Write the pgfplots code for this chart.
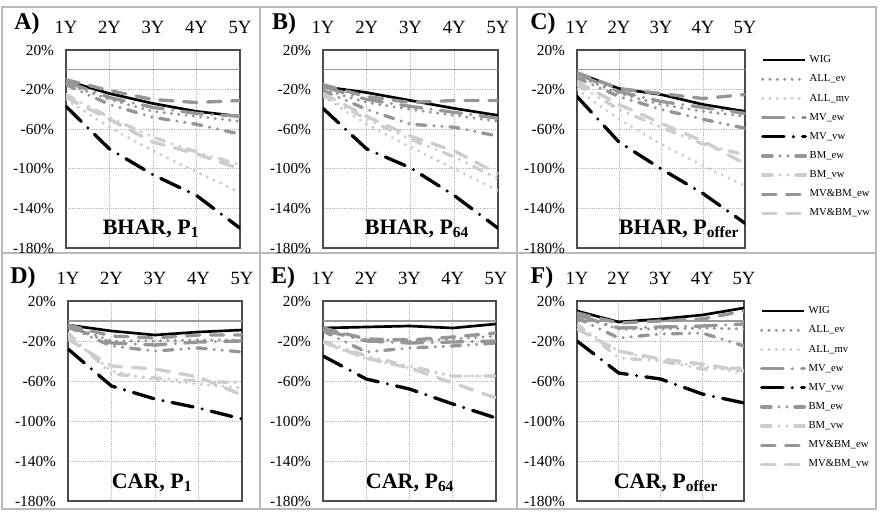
\documentclass[border=0pt]{standalone}
\usepackage{fontspec}
\setmainfont{Liberation Serif}
\usepackage{pgfplots}
\usepackage{pgfplotstable}
\pgfplotsset{compat=1.18}

\definecolor{mg}{RGB}{150,150,150}
\definecolor{lg}{RGB}{205,205,205}
\definecolor{gridc}{RGB}{185,185,185}
\definecolor{frame}{RGB}{185,185,185}
\newcommand\U{0.75pt}

% columns: x, WIG, ALL_ev, ALL_mv, MV_ew, MV_vw, BM_ew, BM_vw, MV&BM_ew, MV&BM_vw
\pgfplotstableread{
x wig allev allmv mvew mvvw bmew bmvw mbew mbvw
1 -11 -14 -30 -12 -37 -15 -25 -10 -28
2 -24 -30 -58 -28 -80 -35 -48 -21 -50
3 -34 -42 -82 -38 -106 -48 -68 -30 -73
4 -42 -47 -103 -44 -127 -55 -83 -33 -85
5 -47 -52 -124 -47 -160 -65 -96 -31 -100
}\tA
\pgfplotstableread{
x wig allev allmv mvew mvvw bmew bmvw mbew mbvw
1 -17 -20 -27 -17 -39 -21 -26 -15 -24
2 -23 -33 -55 -30 -80 -40 -50 -27 -47
3 -31 -40 -78 -37 -99 -55 -70 -33 -67
4 -39 -46 -100 -43 -127 -58 -88 -31 -82
5 -46 -52 -122 -49 -160 -67 -110 -31 -105
}\tB
\pgfplotstableread{
x wig allev allmv mvew mvvw bmew bmvw mbew mbvw
1 -3 -6 -20 -4 -27 -8 -15 -3 -12
2 -19 -24 -50 -22 -73 -27 -40 -19 -35
3 -25 -35 -75 -32 -100 -40 -58 -24 -54
4 -35 -42 -97 -38 -125 -50 -75 -29 -72
5 -42 -47 -117 -44 -155 -59 -86 -25 -95
}\tC
\pgfplotstableread{
x wig allev allmv mvew mvvw bmew bmvw mbew mbvw
1 -4 -4 -15 -5 -28 -6 -12 -4 -18
2 -10 -20 -50 -22 -65 -25 -53 -15 -45
3 -14 -20 -59 -24 -78 -30 -57 -17 -48
4 -11 -19 -63 -21 -87 -27 -60 -14 -56
5 -9 -19 -67 -20 -98 -31 -62 -14 -74
}\tD
\pgfplotstableread{
x wig allev allmv mvew mvvw bmew bmvw mbew mbvw
1 -7 -8 -22 -9 -35 -10 -20 -7 -21
2 -6 -18 -38 -20 -58 -31 -35 -18 -37
3 -5 -20 -47 -22 -68 -27 -45 -19 -47
4 -7 -18 -55 -21 -83 -25 -55 -16 -62
5 -3 -15 -55 -20 -97 -22 -55 -12 -77
}\tE
\pgfplotstableread{
x wig allev allmv mvew mvvw bmew bmvw mbew mbvw
1 10 5 -5 6 -20 3 -3 8 -8
2 -1 -8 -30 -7 -52 -17 -37 -2 -30
3 2 -8 -40 -6 -58 -13 -40 0 -38
4 6 -7 -45 -5 -73 -12 -48 2 -43
5 13 -8 -52 -3 -82 -25 -47 10 -50
}\tF

\tikzset{
  wig/.style={black, line width=2pt},
  allev/.style={mg, line width=2.5pt, line cap=round, dash pattern=on 0pt off 5.5pt},
  allmv/.style={lg, line width=2.5pt, line cap=round, dash pattern=on 0pt off 5.5pt},
  mvew/.style={mg, line width=2.5pt, line cap=round, dash pattern=on 16pt off 7pt on 0pt off 7pt},
  mvvw/.style={black, line width=2.5pt, line cap=round, dash pattern=on 16pt off 7pt on 0pt off 7pt},
  bmew/.style={mg, line width=2.5pt, line cap=round, dash pattern=on 7pt off 6pt on 0pt off 6pt on 0pt off 6pt},
  bmvw/.style={lg, line width=2.5pt, line cap=round, dash pattern=on 7pt off 6pt on 0pt off 6pt on 0pt off 6pt},
  mbew/.style={mg, line width=2.5pt, line cap=round, dash pattern=on 10pt off 8pt},
  mbvw/.style={lg, line width=2.5pt, line cap=round, dash pattern=on 10pt off 8pt},
}

\pgfplotsset{
  panel/.style={
    scale only axis, anchor=south west,
    xmin=1, xmax=5, ymin=-180, ymax=20,
    xtick={1,2,3,4,5}, xticklabels={1Y,2Y,3Y,4Y,5Y}, xticklabel pos=upper,
    ytick={20,-20,-60,-100,-140,-180},
    yticklabels={20\%,-20\%,-60\%,-100\%,-140\%,-180\%},
    extra y ticks={0}, extra y tick labels={},
    extra y tick style={grid=major, major grid style={solid, draw=gray!80, line width=0.8pt}},
    grid=major, major grid style={densely dotted, draw=gridc, line width=0.5pt},
    major tick length=0pt,
    axis line style={draw=black!70, line width=0.8pt},
    xticklabel style={font=\fontsize{14}{14}\selectfont, yshift=9pt},
    yticklabel style={font=\fontsize{11.5}{11.5}\selectfont, xshift=-5.5pt},
    legend image code/.code={\draw[##1] (0pt,0pt) -- (32pt,0pt);},
    legend style={draw=none, fill=none, font=\fontsize{8}{8}\selectfont,
      at={(1.07,1.0)}, anchor=north west, row sep=3.6pt,
      /tikz/every even column/.append style={column sep=3pt}},
    legend cell align=left,
  },
}

\newcommand\allseries[1]{%
  \addplot[wig] table[x=x,y=wig]{#1};
  \addplot[allev] table[x=x,y=allev]{#1};
  \addplot[allmv] table[x=x,y=allmv]{#1};
  \addplot[mvew] table[x=x,y=mvew]{#1};
  \addplot[mvvw] table[x=x,y=mvvw]{#1};
  \addplot[bmew] table[x=x,y=bmew]{#1};
  \addplot[bmvw] table[x=x,y=bmvw]{#1};
  \addplot[mbew] table[x=x,y=mbew]{#1};
  \addplot[mbvw] table[x=x,y=mbvw]{#1};
}

\begin{document}
\begin{tikzpicture}
\path[use as bounding box] (0,0) rectangle (882*\U,-511*\U);
% frame of the six cells
\draw[frame, line width=1.2pt] (2*\U,-7*\U) rectangle (876*\U,-509*\U);
\draw[frame, line width=1.2pt] (2*\U,-253*\U) -- (876*\U,-253*\U);
\draw[frame, line width=1.2pt] (260*\U,-7*\U) -- (260*\U,-509*\U);
\draw[frame, line width=1.2pt] (517*\U,-7*\U) -- (517*\U,-509*\U);

\begin{axis}[panel, at={(66*\U,-248*\U)}, width=174*\U, height=198*\U]
\allseries{\tA}
\end{axis}
\begin{axis}[panel, at={(323*\U,-248*\U)}, width=175*\U, height=198*\U]
\allseries{\tB}
\end{axis}
\begin{axis}[panel, at={(577*\U,-248*\U)}, width=168*\U, height=198*\U]
\allseries{\tC}
\legend{WIG,ALL\_ev,ALL\_mv,MV\_ew,MV\_vw,BM\_ew,BM\_vw,MV\&BM\_ew,MV\&BM\_vw}
\end{axis}
\begin{axis}[panel, at={(68*\U,-501*\U)}, width=174*\U, height=200*\U]
\allseries{\tD}
\end{axis}
\begin{axis}[panel, at={(323*\U,-501*\U)}, width=173*\U, height=200*\U]
\allseries{\tE}
\end{axis}
\begin{axis}[panel, at={(577*\U,-501*\U)}, width=167*\U, height=200*\U]
\allseries{\tF}
\legend{WIG,ALL\_ev,ALL\_mv,MV\_ew,MV\_vw,BM\_ew,BM\_vw,MV\&BM\_ew,MV\&BM\_vw}
\end{axis}

% panel letters
\begin{scope}[every node/.style={font=\bfseries\fontsize{18}{18}\selectfont}]
\node at (27*\U,-24*\U) {A)};
\node at (284*\U,-24*\U) {B)};
\node at (543*\U,-24*\U) {C)};
\node at (23*\U,-278*\U) {D)};
\node at (283*\U,-278*\U) {E)};
\node at (542*\U,-278*\U) {F)};
\end{scope}
% panel titles
\begin{scope}[every node/.style={font=\bfseries\fontsize{16.5}{17}\selectfont, anchor=base, inner sep=0pt}]
\node at (151*\U,-234*\U) {BHAR, P\textsubscript{1}};
\node at (417*\U,-234*\U) {BHAR, P\textsubscript{64}};
\node at (679*\U,-234*\U) {BHAR, P\textsubscript{offer}};
\node at (152*\U,-488*\U) {CAR, P\textsubscript{1}};
\node at (410*\U,-488*\U) {CAR, P\textsubscript{64}};
\node at (666*\U,-488*\U) {CAR, P\textsubscript{offer}};
\end{scope}
\end{tikzpicture}
\end{document}
